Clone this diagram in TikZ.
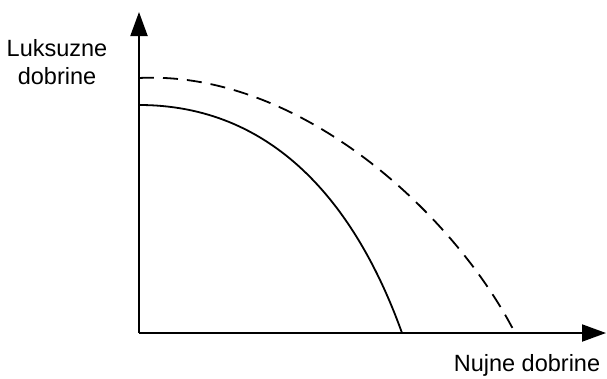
\documentclass[tikz,border=0pt]{standalone}
\usepackage{fontspec}
\setmainfont{Liberation Sans}
\usetikzlibrary{arrows.meta,positioning}

\begin{document}
\begin{tikzpicture}[x=1pt,y=-1pt,>={Triangle[length=24pt,width=17pt]},
axis/.style={line width=2pt},
curve/.style={line width=1.8pt},
lbl/.style={align=center,font=\fontsize{23.5}{28}\selectfont,inner sep=0pt}]
\useasboundingbox (0,0) rectangle (607,378);
\coordinate (O) at (139,333);
\coordinate (ytip) at (139,12);
\coordinate (xtip) at (606,333);
\draw[axis,->] (O) -- (ytip);
\draw[axis,->] (O) -- (xtip);
% curves
\coordinate (s0) at (139,105);
\coordinate (s1) at (402,333);
\coordinate (d0) at (139,78);
\coordinate (d1) at (515,333);
\draw[curve] (s0) .. controls (272,105) and (355,202) .. (s1);
\draw[curve,dash pattern=on 15pt off 9pt] (d0) .. controls (300,70) and (455,215) .. (d1);
\node[lbl] (lux) at (57,62) {Luksuzne\\dobrine};
\node[lbl] (nuj) at (527,365) {Nujne dobrine};
\end{tikzpicture}
\end{document}
